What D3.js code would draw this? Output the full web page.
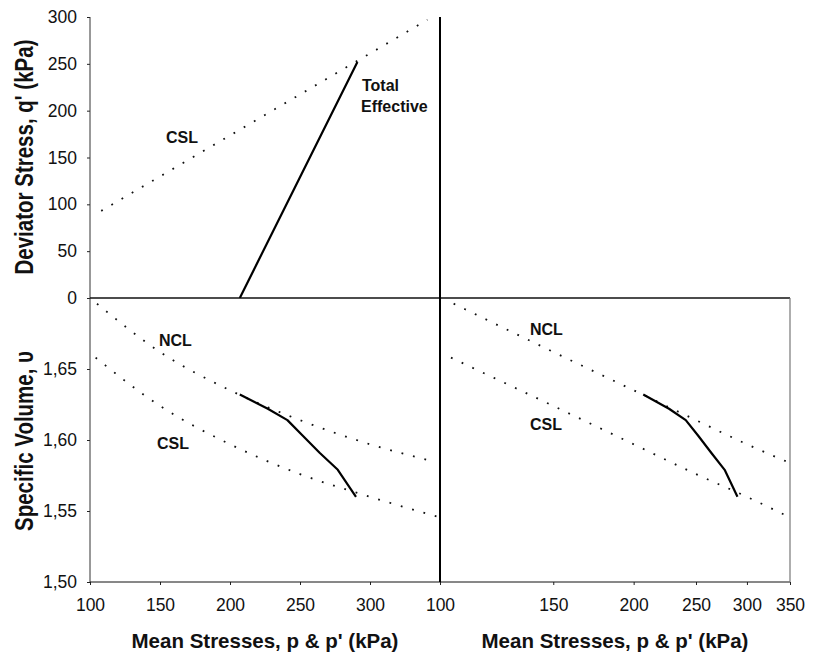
<!DOCTYPE html>
<html>
<head>
<meta charset="utf-8">
<script src="https://cdn.jsdelivr.net/npm/d3@7"></script>
<style>
  html, body { margin: 0; padding: 0; background: #fff; }
  svg { display: block; font-family: "Liberation Sans", Arial, sans-serif; }
  .tick text { font-size: 17.5px; fill: #111; }
  .lbl { font-size: 16px; font-weight: bold; fill: #111; }
  .title { font-size: 20.5px; font-weight: bold; fill: #111; }
</style>
</head>
<body>
<svg id="chart" width="816" height="655"></svg>
<script>
// ---- data ----
// q-p plane
const qTicks = [0, 50, 100, 150, 200, 250, 300];
const cslQP_p = [108, 341];
const cslQP_q = [93, 297];
const pathQP_p = [207, 249, 291];
const pathQP_q = [0, 126, 252];

// v-p plane
const vTicks = [1.50, 1.55, 1.60, 1.65];
const pTicksLin = [100, 150, 200, 250, 300];
const pTicksLog = [100, 150, 200, 250, 300, 350];
const ncl_p = [105, 150, 200, 250, 300, 345];
const ncl_v = [1.696, 1.662, 1.635, 1.614, 1.597, 1.585];
const csl_p = [104, 150, 200, 250, 300, 348];
const csl_v = [1.658, 1.624, 1.597, 1.576, 1.560, 1.546];
const pathV_p = [207, 227, 241, 252, 264, 277, 290];
const pathV_v = [1.632, 1.622, 1.614, 1.603, 1.591, 1.579, 1.560];

const zip = (a, b) => a.map((d, i) => [d, b[i]]);

// ---- layout ----
const svg = d3.select("#chart");
const L = 90, M = 440, R = 790, T = 17, Mid = 298, B = 582;

const xLin = d3.scaleLinear().domain([100, 350]).range([L, M]);
const xLog = d3.scaleLog().domain([100, 350]).range([M, R]);
const yQ = d3.scaleLinear().domain([0, 300]).range([Mid, T]);
const yV = d3.scaleLinear().domain([1.5, 1.7]).range([B, Mid]);

const commaFmt = d => d3.format(".2f")(d).replace(".", ",");

// clip regions for each panel
const defs = svg.append("defs");
defs.append("clipPath").attr("id", "clipQ").append("rect")
  .attr("x", L).attr("y", T).attr("width", M - L).attr("height", Mid - T);
defs.append("clipPath").attr("id", "clipVL").append("rect")
  .attr("x", L).attr("y", Mid).attr("width", M - L).attr("height", B - Mid);
defs.append("clipPath").attr("id", "clipVR").append("rect")
  .attr("x", M).attr("y", Mid).attr("width", R - M).attr("height", B - Mid);

// ---- axes ----
function styleAxis(g) {
  g.select(".domain").remove();
  g.selectAll(".tick line").attr("stroke", "#222");
}

svg.append("g").attr("transform", `translate(${L},0)`)
  .call(d3.axisLeft(yQ).tickValues(qTicks).tickSize(3).tickPadding(10).tickFormat(d3.format("d")))
  .call(styleAxis);

svg.append("g").attr("transform", `translate(${L},0)`)
  .call(d3.axisLeft(yV).tickValues(vTicks).tickSize(3).tickPadding(10).tickFormat(commaFmt))
  .call(styleAxis);

svg.append("g").attr("transform", `translate(0,${B})`)
  .call(d3.axisBottom(xLin).tickValues(pTicksLin).tickSize(3).tickPadding(14).tickFormat(d3.format("d")))
  .call(styleAxis);

svg.append("g").attr("transform", `translate(0,${B})`)
  .call(d3.axisBottom(xLog).tickValues(pTicksLog).tickSize(3).tickPadding(14).tickFormat(d3.format("d")))
  .call(styleAxis);

// panel frames
const frame = svg.append("g");
frame.append("line").attr("x1", L).attr("x2", L).attr("y1", T).attr("y2", B)
  .attr("stroke", "#333").attr("stroke-width", 1);
frame.append("line").attr("x1", L).attr("x2", R).attr("y1", Mid).attr("y2", Mid)
  .attr("stroke", "#111").attr("stroke-width", 1.5);
frame.append("line").attr("x1", L).attr("x2", R).attr("y1", B).attr("y2", B)
  .attr("stroke", "#111").attr("stroke-width", 1);
frame.append("line").attr("x1", M).attr("x2", M).attr("y1", T).attr("y2", B)
  .attr("stroke", "#000").attr("stroke-width", 2);
frame.append("line").attr("x1", R).attr("x2", R).attr("y1", Mid).attr("y2", B)
  .attr("stroke", "#777").attr("stroke-width", 1.2);

// ---- lines ----
const dotted = sel => sel.attr("fill", "none").attr("stroke", "#111")
  .attr("stroke-width", 1.8).attr("stroke-dasharray", "1.8 10");
const solid = sel => sel.attr("fill", "none").attr("stroke", "#000")
  .attr("stroke-width", 2.2).attr("stroke-linejoin", "round");

// q-p panel
const lineQ = d3.line().x(d => xLin(d[0])).y(d => yQ(d[1]));
const gQ = svg.append("g").attr("clip-path", "url(#clipQ)");
gQ.append("path").attr("d", lineQ(zip(cslQP_p, cslQP_q))).call(dotted);
gQ.append("path").attr("d", lineQ(zip(pathQP_p, pathQP_q))).call(solid);

// v-p panel, linear p
const lineVL = d3.line().x(d => xLin(d[0])).y(d => yV(d[1])).curve(d3.curveMonotoneX);
const gVL = svg.append("g").attr("clip-path", "url(#clipVL)");
gVL.append("path").attr("d", lineVL(zip(ncl_p, ncl_v))).call(dotted);
gVL.append("path").attr("d", lineVL(zip(csl_p, csl_v))).call(dotted);
gVL.append("path").attr("d", d3.line().x(d => xLin(d[0])).y(d => yV(d[1]))(zip(pathV_p, pathV_v))).call(solid);

// v-p panel, log p
const lineVR = d3.line().x(d => xLog(d[0])).y(d => yV(d[1])).curve(d3.curveMonotoneX);
const gVR = svg.append("g").attr("clip-path", "url(#clipVR)");
gVR.append("path").attr("d", lineVR(zip(ncl_p, ncl_v))).call(dotted);
gVR.append("path").attr("d", lineVR(zip(csl_p, csl_v))).call(dotted);
gVR.append("path").attr("d", d3.line().x(d => xLog(d[0])).y(d => yV(d[1]))(zip(pathV_p, pathV_v))).call(solid);

// ---- annotations ----
const ann = svg.append("g");
ann.append("text").attr("class", "lbl").attr("x", 166).attr("y", 143).text("CSL");
ann.append("text").attr("class", "lbl").attr("x", 362).attr("y", 91).text("Total");
ann.append("text").attr("class", "lbl").attr("x", 361).attr("y", 112).text("Effective");
ann.append("text").attr("class", "lbl").attr("x", 159).attr("y", 346).text("NCL");
ann.append("text").attr("class", "lbl").attr("x", 157).attr("y", 449).text("CSL");
ann.append("text").attr("class", "lbl").attr("x", 530).attr("y", 335).text("NCL");
ann.append("text").attr("class", "lbl").attr("x", 530).attr("y", 430).text("CSL");

// ---- axis titles ----
// vertical titles are drawn slightly widened across the glyph height
svg.append("text").attr("class", "title").attr("text-anchor", "middle")
  .attr("transform", `translate(33,157) scale(1.3,1) rotate(-90)`).text("Deviator Stress, q' (kPa)");
svg.append("text").attr("class", "title").attr("text-anchor", "middle")
  .attr("transform", `translate(33,441) scale(1.3,1) rotate(-90)`).text("Specific Volume, \u03C5");
svg.append("text").attr("class", "title").attr("text-anchor", "middle")
  .attr("x", 265).attr("y", 648).text("Mean Stresses, p & p' (kPa)");
svg.append("text").attr("class", "title").attr("text-anchor", "middle")
  .attr("x", 615).attr("y", 648).text("Mean Stresses, p & p' (kPa)");
</script>
</body>
</html>
